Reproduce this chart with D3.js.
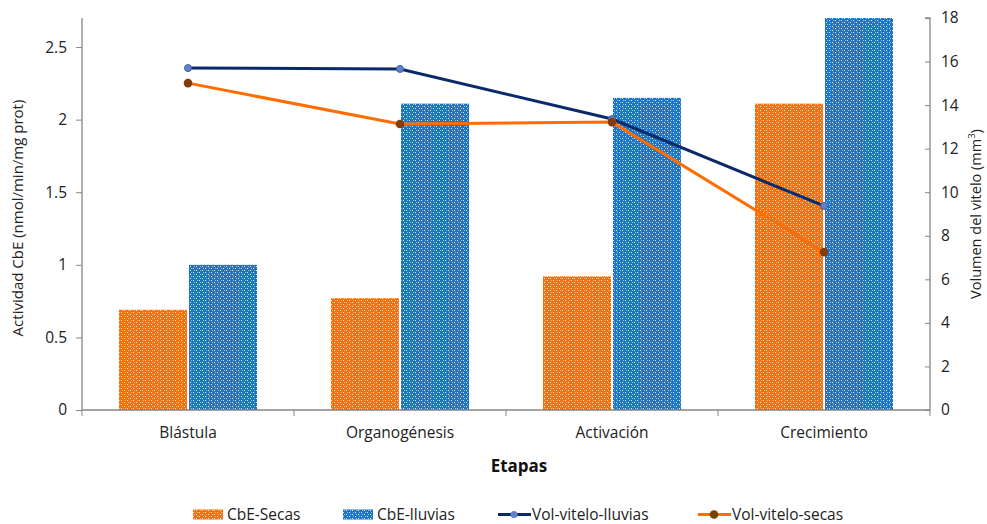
<!DOCTYPE html>
<html>
<head>
<meta charset="utf-8">
<script src="https://cdn.jsdelivr.net/npm/d3@7"></script>
<style>
  html, body { margin: 0; padding: 0; background: #fff; }
  svg { display: block; font-family: "Open Sans", Lato, sans-serif; }
</style>
</head>
<body>
<svg id="chart" width="987" height="524"></svg>
<script>
// Stages of embryonic development
const categories = ["Blástula", "Organogénesis", "Activación", "Crecimiento"];
// CbE activity (nmol/min/mg prot), left axis
const cbeSecas = [0.69, 0.77, 0.92, 2.11];
const cbeLluvias = [1.0, 2.11, 2.15, 2.7];
// Yolk volume (mm³), right axis
const volLluvias = [15.7, 15.66, 13.36, 9.37];
const volSecas = [15.01, 13.13, 13.22, 7.25];
const leftTicks = [0, 0.5, 1, 1.5, 2, 2.5];
const rightTicks = [0, 2, 4, 6, 8, 10, 12, 14, 16, 18];

const svg = d3.select("#chart");
const plotLeft = 82, plotRight = 930, plotTop = 18, plotBottom = 410;
const axisColor = "#868686";
const orange = "#ff6d00", blue = "#1b75c8", navy = "#0b2a6a";
const font = "'Open Sans', sans-serif";

// dotted fill patterns for the bars
const defs = svg.append("defs");
function dotPattern(id, color) {
  const p = defs.append("pattern").attr("id", id)
    .attr("patternUnits", "userSpaceOnUse").attr("width", 6).attr("height", 4);
  p.append("rect").attr("width", 6).attr("height", 4).attr("fill", color);
  p.append("rect").attr("x", 1).attr("y", 0).attr("width", 1).attr("height", 1).attr("fill", "#fff").attr("opacity", 0.85);
  p.append("rect").attr("x", 4).attr("y", 2).attr("width", 1).attr("height", 1).attr("fill", "#fff").attr("opacity", 0.85);
  p.append("rect").attr("x", 2).attr("y", 2).attr("width", 1).attr("height", 1).attr("fill", "#fff").attr("opacity", 0.5);
  p.append("rect").attr("x", 5).attr("y", 0).attr("width", 1).attr("height", 1).attr("fill", "#fff").attr("opacity", 0.5);
}
dotPattern("patSecas", orange);
dotPattern("patLluvias", blue);

const x = d3.scaleBand().domain(categories).range([plotLeft, plotRight]);
const yL = d3.scaleLinear().domain([0, 2.7]).range([plotBottom, plotTop]);
const yR = d3.scaleLinear().domain([0, 18]).range([plotBottom, plotTop]);

const barW = 68, gap = 2;
const cx = d => x(d) + x.bandwidth() / 2;

// bars
const g = svg.append("g");
g.selectAll(".bs").data(categories).join("rect")
  .attr("x", (d) => cx(d) - gap / 2 - barW)
  .attr("y", (d, i) => yL(cbeSecas[i]))
  .attr("width", barW)
  .attr("height", (d, i) => plotBottom - yL(cbeSecas[i]))
  .attr("fill", "url(#patSecas)");
g.selectAll(".bl").data(categories).join("rect")
  .attr("x", (d) => cx(d) + gap / 2)
  .attr("y", (d, i) => yL(cbeLluvias[i]))
  .attr("width", barW)
  .attr("height", (d, i) => plotBottom - yL(cbeLluvias[i]))
  .attr("fill", "url(#patLluvias)");

// axes
const axL = svg.append("g").attr("transform", `translate(${plotLeft},0)`)
  .call(d3.axisLeft(yL).tickValues(leftTicks).tickFormat(d3.format("")).tickSize(6).tickPadding(9));
const axR = svg.append("g").attr("transform", `translate(${plotRight},0)`)
  .call(d3.axisRight(yR).tickValues(rightTicks).tickSize(0).tickPadding(11));
axR.selectAll(".tick").append("line").attr("x1", -5).attr("x2", 0).attr("stroke", axisColor);
const axB = svg.append("g").attr("transform", `translate(0,${plotBottom})`)
  .call(d3.axisBottom(x).tickSize(0).tickPadding(17));
// category separators
axB.selectAll(".sep").data(d3.range(categories.length + 1)).join("line")
  .attr("x1", i => plotLeft + i * x.bandwidth()).attr("x2", i => plotLeft + i * x.bandwidth())
  .attr("y1", 0).attr("y2", 6).attr("stroke", axisColor);

[axL, axR, axB].forEach(a => {
  a.select(".domain").attr("stroke", axisColor).attr("stroke-width", 1.3);
  a.selectAll(".tick line").attr("stroke", axisColor);
  a.selectAll("text").attr("fill", "#222").attr("font-size", 15.5).attr("font-family", font);
});
axL.select(".domain").attr("d", `M0,${plotTop}V${plotBottom}`);
axB.select(".domain").attr("d", `M${plotLeft},0H${plotRight}`);
axR.select(".domain").attr("d", `M-5,${plotTop}H0V${plotBottom}`);

// lines
const line = vals => d3.line().x((d, i) => cx(categories[i])).y(d => yR(d))(vals);
svg.append("path").attr("d", line(volLluvias)).attr("fill", "none")
  .attr("stroke", navy).attr("stroke-width", 3);
svg.append("path").attr("d", line(volSecas)).attr("fill", "none")
  .attr("stroke", orange).attr("stroke-width", 3);
svg.selectAll(".ml").data(volLluvias).join("circle")
  .attr("cx", (d, i) => cx(categories[i])).attr("cy", d => yR(d)).attr("r", 3.5)
  .attr("fill", "#5f82c8").attr("stroke", "#3d5fa8").attr("stroke-width", 1);
svg.selectAll(".ms").data(volSecas).join("circle")
  .attr("cx", (d, i) => cx(categories[i])).attr("cy", d => yR(d)).attr("r", 4.3)
  .attr("fill", "#843c0c");

// axis titles
svg.append("text").attr("x", (plotLeft + plotRight) / 2 + 13).attr("y", 472).attr("text-anchor", "middle")
  .attr("font-size", 17).attr("font-weight", "bold").attr("fill", "#111").attr("font-family", font).text("Etapas");
svg.append("text").attr("transform", `translate(23,${(plotTop + plotBottom) / 2 + 4}) rotate(-90)`)
  .attr("text-anchor", "middle").attr("font-size", 15).attr("fill", "#222").attr("font-family", font)
  .text("Actividad CbE (nmol/min/mg prot)");
const rt = svg.append("text").attr("transform", `translate(981,${(plotTop + plotBottom) / 2}) rotate(-90)`)
  .attr("text-anchor", "middle").attr("font-size", 14.5).attr("fill", "#222").attr("font-family", font);
rt.append("tspan").text("Volumen del vitelo (mm");
rt.append("tspan").attr("baseline-shift", "super").attr("font-size", 9.5).text("3");
rt.append("tspan").text(")");

// legend
const leg = svg.append("g").attr("font-size", 15.5).attr("fill", "#222").attr("font-family", font);
const ly = 514.5;
const legItems = [
  { type: "bar", fill: "url(#patSecas)", label: "CbE-Secas", x: 193 },
  { type: "bar", fill: "url(#patLluvias)", label: "CbE-lluvias", x: 343 },
  { type: "line", stroke: navy, mfill: "#5f82c8", r: 3.5, label: "Vol-vitelo-lluvias", x: 498 },
  { type: "line", stroke: orange, mfill: "#843c0c", r: 4.3, label: "Vol-vitelo-secas", x: 698 }
];
legItems.forEach(it => {
  if (it.type === "bar") {
    leg.append("rect").attr("x", it.x).attr("y", ly - 5).attr("width", 30).attr("height", 10).attr("fill", it.fill);
    leg.append("text").attr("x", it.x + 34).attr("y", ly + 5).text(it.label);
  } else {
    leg.append("line").attr("x1", it.x).attr("x2", it.x + 33).attr("y1", ly).attr("y2", ly)
      .attr("stroke", it.stroke).attr("stroke-width", 3);
    leg.append("circle").attr("cx", it.x + 16).attr("cy", ly).attr("r", it.r).attr("fill", it.mfill);
    leg.append("text").attr("x", it.x + 34).attr("y", ly + 5).text(it.label);
  }
});
</script>
</body>
</html>
